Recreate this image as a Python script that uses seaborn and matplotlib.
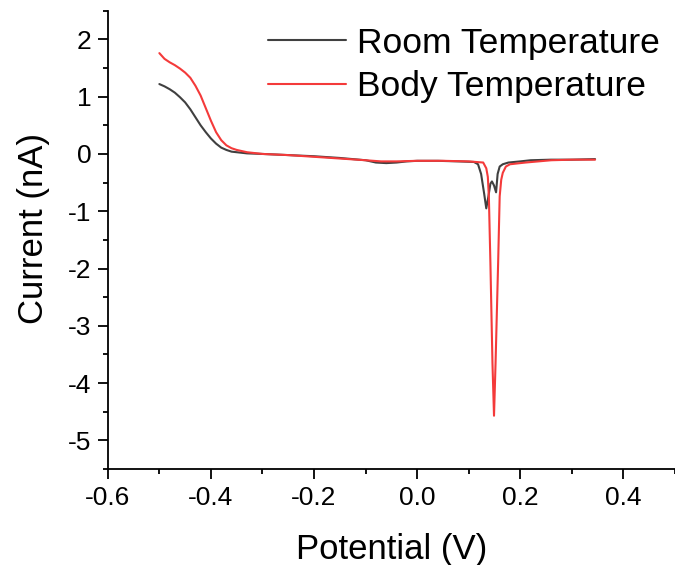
import matplotlib
matplotlib.use("Agg")
import matplotlib.pyplot as plt
import seaborn as sns
import pandas as pd
from matplotlib.ticker import MultipleLocator

room_x = [-0.500, -0.490, -0.480, -0.470, -0.460, -0.450, -0.440, -0.430, -0.420, -0.410,
          -0.400, -0.390, -0.380, -0.370, -0.360, -0.350, -0.330, -0.300, -0.250, -0.200,
          -0.150, -0.100, -0.080, -0.060, -0.040, -0.020, 0.000, 0.040, 0.080, 0.110,
          0.118, 0.124, 0.130, 0.134, 0.138, 0.142, 0.145, 0.149, 0.153, 0.156,
          0.160, 0.166, 0.177, 0.200, 0.220, 0.260, 0.300, 0.345]
room_y = [1.22, 1.18, 1.13, 1.07, 0.99, 0.90, 0.78, 0.64, 0.50, 0.38,
          0.27, 0.18, 0.11, 0.07, 0.04, 0.03, 0.01, 0.00, -0.02, -0.04,
          -0.07, -0.11, -0.15, -0.16, -0.15, -0.13, -0.12, -0.12, -0.13, -0.14,
          -0.18, -0.35, -0.70, -0.95, -0.75, -0.52, -0.48, -0.55, -0.67, -0.35,
          -0.22, -0.18, -0.15, -0.13, -0.11, -0.10, -0.10, -0.09]

body_x = [-0.500, -0.490, -0.480, -0.470, -0.460, -0.450, -0.440, -0.430, -0.420, -0.410,
          -0.400, -0.390, -0.380, -0.370, -0.360, -0.350, -0.330, -0.300, -0.250, -0.200,
          -0.150, -0.100, -0.070, -0.040, 0.000, 0.050, 0.100, 0.128, 0.134, 0.137,
          0.139, 0.142, 0.146, 0.149, 0.152, 0.157, 0.160, 0.163, 0.166, 0.172,
          0.180, 0.210, 0.260, 0.300, 0.345]
body_y = [1.76, 1.66, 1.60, 1.55, 1.49, 1.42, 1.33, 1.19, 1.02, 0.80,
          0.58, 0.38, 0.24, 0.15, 0.10, 0.07, 0.03, 0.00, -0.02, -0.05,
          -0.08, -0.11, -0.13, -0.13, -0.12, -0.12, -0.13, -0.15, -0.25, -0.40,
          -0.74, -1.90, -3.65, -4.57, -3.65, -1.90, -0.74, -0.45, -0.33, -0.22,
          -0.18, -0.15, -0.11, -0.10, -0.10]

labels = ["Room Temperature", "Body Temperature"]
colors = ["#404040", "#F43A3A"]
xtick_vals = [-0.6, -0.4, -0.2, 0.0, 0.2, 0.4]
xtick_labels = ["-0.6", "-0.4", "-0.2", "0.0", "0.2", "0.4"]
ytick_vals = [2, 1, 0, -1, -2, -3, -4, -5]
ytick_labels = ["2", "1", "0", "-1", "-2", "-3", "-4", "-5"]

df = pd.concat([
    pd.DataFrame({"Potential": room_x, "Current": room_y, "Series": labels[0]}),
    pd.DataFrame({"Potential": body_x, "Current": body_y, "Series": labels[1]}),
])

sns.set_style("ticks")
plt.rcParams["font.family"] = ["Liberation Sans", "DejaVu Sans"]
plt.rcParams["text.color"] = "black"
plt.rcParams["axes.labelcolor"] = "black"

fig = plt.figure(figsize=(6.75, 5.65), dpi=100)
ax = fig.add_axes([0.1597, 0.1699, 0.8403, 0.8111])

sns.lineplot(data=df, x="Potential", y="Current", hue="Series", palette=colors,
             hue_order=labels, sort=False, estimator=None, units="Series",
             linewidth=1.5, ax=ax)

ax.set_xlim(-0.6, 0.5)
ax.set_ylim(-5.5, 2.5)
ax.xaxis.set_minor_locator(MultipleLocator(0.1))
ax.yaxis.set_minor_locator(MultipleLocator(0.5))
ax.set_xticks(xtick_vals)
ax.set_xticklabels(xtick_labels)
ax.set_yticks(ytick_vals)
ax.set_yticklabels(ytick_labels)

for s in ["top", "right"]:
    ax.spines[s].set_visible(False)
for s in ["left", "bottom"]:
    ax.spines[s].set_linewidth(1.3)
    ax.spines[s].set_color("black")
ax.tick_params(which="major", direction="out", length=7, width=1.3, labelsize=19,
               colors="black", labelcolor="black", pad=5)
ax.tick_params(which="minor", direction="out", length=3.5, width=1.3, colors="black")

ax.set_xlabel("Potential (V)", fontsize=25, labelpad=17)
ax.set_ylabel("Current (nA)", fontsize=25, labelpad=13)
ax.yaxis.label.set_y(0.524)

leg = ax.legend(loc="upper right", frameon=False, fontsize=25.5, handlelength=2.2,
                handletextpad=0.3, labelspacing=0.3, borderaxespad=0.0,
                bbox_to_anchor=(0.998, 0.996))
for line in leg.get_lines():
    line.set_linewidth(1.5)

fig.savefig("out.png", dpi=100)
